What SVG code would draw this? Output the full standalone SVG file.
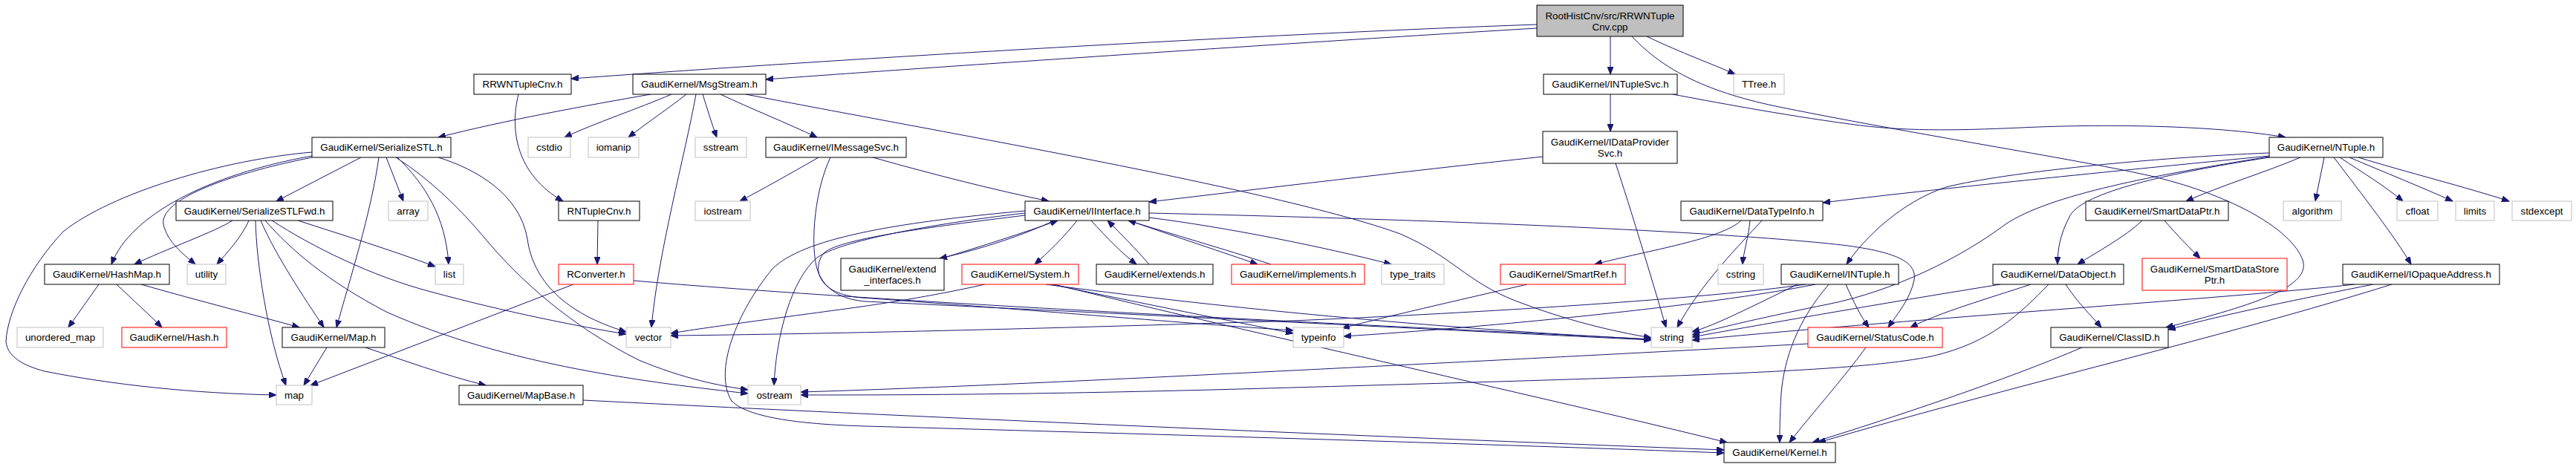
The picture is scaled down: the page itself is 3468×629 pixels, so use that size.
<svg xmlns="http://www.w3.org/2000/svg" width="3468" height="629" viewBox="0 0 3468 629">
<style>
.e path{fill:none;stroke:#191970;stroke-width:1;marker-end:url(#a)}
.nd rect{fill:#fff;stroke:#000;stroke-width:1}
.nd.g rect{stroke:#bfbfbf}
.nd.r rect{stroke:#ff0000}
.nd.root rect{fill:#bfbfbf;stroke:#000}
.nd text{font-family:"Liberation Sans",Arial,sans-serif;font-size:13.33px;text-anchor:middle;fill:#000}
</style>
<defs>
<marker id="a" markerWidth="11" markerHeight="8" refX="10" refY="4" orient="auto" markerUnits="userSpaceOnUse"><path d="M0,0 L10,4 L0,8 z" fill="#191970" stroke="#191970" stroke-width="1"/></marker>
</defs>
<rect width="3468" height="629" fill="#fff"/>
<g id="edges" class="e">
<path d="M2069,33 C1700,46 1150,78 769,106"/>
<path d="M2069,38 C1700,60 1150,98 1031,107"/>
<path d="M2168,49 L2168,100"/>
<path d="M2217,49 C2265,72 2305,86 2336,100"/>
<path d="M2197,49 C2240,95 2300,125 2400,145 C2600,185 2800,215 2900,238 C3010,265 3085,310 3100,350 C3112,385 3040,410 2916,441"/>
<path d="M2252,127 C2300,136 2400,155 2490,167 C2560,177 2630,176 2720,172 C2850,166 2990,170 3077,185"/>
<path d="M2168,127 L2168,177"/>
<path d="M876,127 C790,142 680,162 590,185"/>
<path d="M904,127 C860,146 800,166 760,185"/>
<path d="M924,127 C900,146 870,166 846,185"/>
<path d="M937,127 C922,210 886,340 877,441"/>
<path d="M946,127 C952,146 958,166 965,185"/>
<path d="M970,127 C1010,146 1060,166 1100,185"/>
<path d="M1004,127 C1250,175 1720,255 1885,315 C1955,345 1975,380 2040,405 C2110,432 2170,446 2223,455"/>
<path d="M698,127 C686,175 695,235 758,271"/>
<path d="M805,297 L804,356"/>
<path d="M772,383 L418,519"/>
<path d="M853,378 C1250,412 1900,440 2223,457"/>
<path d="M1102,212 C1060,236 1030,253 996,271"/>
<path d="M1175,212 C1260,236 1340,256 1412,271"/>
<path d="M1118,212 C1094,262 1090,345 1103,370 C1115,395 1140,404 1165,406 C1500,422 1900,442 2223,458"/>
<path d="M2077,211 C1880,232 1700,254 1547,272"/>
<path d="M2175,220 C2195,280 2225,380 2243,441"/>
<path d="M420,205 C300,215 150,260 85,312 C40,360 10,420 8,460 C10,480 30,492 60,500 C150,518 260,530 372,532"/>
<path d="M420,210 C280,235 175,290 150,356"/>
<path d="M420,212 C300,236 215,270 220,302 C225,325 245,341 263,356"/>
<path d="M486,212 L372,271"/>
<path d="M510,212 C500,285 470,380 453,441"/>
<path d="M520,212 L543,271"/>
<path d="M535,212 C572,248 600,292 604,356"/>
<path d="M590,212 C642,228 700,262 710,322 C718,378 760,422 843,447"/>
<path d="M533,212 C580,242 620,282 652,320 C700,378 770,440 860,485 C920,510 970,520 1007,525"/>
<path d="M313,297 C290,312 222,336 181,356"/>
<path d="M335,297 C325,320 305,341 292,356"/>
<path d="M344,297 C345,352 360,452 385,519"/>
<path d="M351,297 C370,342 410,402 436,441"/>
<path d="M357,297 C392,337 440,378 520,420 C680,492 880,516 1007,530"/>
<path d="M366,297 C420,332 500,372 580,393 C680,420 780,440 843,450"/>
<path d="M401,297 C460,316 530,338 586,359"/>
<path d="M133,383 L92,441"/>
<path d="M157,383 C180,405 200,423 218,441"/>
<path d="M190,383 C270,406 350,426 403,441"/>
<path d="M440,468 L409,519"/>
<path d="M492,468 C540,484 600,506 654,519"/>
<path d="M785,539 C1300,565 1900,590 2321,606"/>
<path d="M1419,297 C1380,316 1320,336 1265,348"/>
<path d="M1268,348 C1320,332 1380,313 1424,297"/>
<path d="M1450,297 C1432,320 1410,341 1393,356"/>
<path d="M1469,297 C1490,320 1510,341 1530,356"/>
<path d="M1547,356 C1530,336 1510,316 1491,297"/>
<path d="M1520,297 C1580,318 1650,341 1693,356"/>
<path d="M1711,356 C1650,336 1570,313 1519,297"/>
<path d="M1547,293 C1650,306 1780,332 1873,356"/>
<path d="M1547,287 C1900,295 2300,310 2480,330 C2560,340 2580,355 2577,377 C2572,402 2555,422 2542,441"/>
<path d="M1380,287 C1250,302 1130,325 1100,347 C1065,377 1045,452 1042,519"/>
<path d="M1380,284 C1200,300 1080,322 1040,362 C992,420 960,500 985,540 C1010,566 1100,572 1165,574 C1600,586 2000,598 2321,610"/>
<path d="M1380,290 C1250,306 1125,322 1108,342 C1094,362 1100,396 1160,401 C1400,418 1600,436 1741,445"/>
<path d="M1326,383 C1250,400 1180,410 1160,413 C1050,428 950,441 903,449"/>
<path d="M1415,383 C1550,411 1650,431 1741,449"/>
<path d="M1408,383 C1700,422 2000,446 2223,457"/>
<path d="M1419,383 C1700,452 2100,540 2325,596"/>
<path d="M2056,383 C1960,405 1860,428 1807,442"/>
<path d="M2344,297 C2318,322 2220,337 2147,356"/>
<path d="M2356,297 C2354,320 2347,340 2346,356"/>
<path d="M2372,297 C2340,332 2290,382 2258,441"/>
<path d="M3097,212 C3050,232 2990,250 2943,271"/>
<path d="M3129,212 L3117,271"/>
<path d="M3142,212 C3180,262 3225,320 3246,356"/>
<path d="M3150,212 C3180,232 3210,250 3235,271"/>
<path d="M3163,212 C3210,232 3260,252 3302,271"/>
<path d="M3175,212 C3240,232 3320,252 3378,271"/>
<path d="M3055,206 C2900,212 2700,232 2620,252 C2560,272 2510,320 2486,356"/>
<path d="M3055,210 C2850,230 2600,255 2454,273"/>
<path d="M3055,211 C2900,236 2760,262 2700,302 C2640,347 2550,392 2460,410 C2380,426 2320,440 2278,451"/>
<path d="M3055,212 C2900,236 2800,262 2786,292 C2773,317 2770,337 2770,356"/>
<path d="M2884,297 C2860,320 2820,341 2797,356"/>
<path d="M2914,297 C2930,316 2950,336 2962,348"/>
<path d="M2693,383 C2550,406 2400,432 2278,454"/>
<path d="M2734,383 C2680,401 2610,421 2572,441"/>
<path d="M2758,383 C2720,422 2680,462 2600,480 C2500,500 2300,506 1740,522 C1400,532 1200,532 1078,532"/>
<path d="M2781,383 C2795,405 2815,425 2829,441"/>
<path d="M2512,468 C2480,512 2440,556 2409,596"/>
<path d="M2434,463 C2200,476 1800,496 1740,499 C1500,511 1250,523 1078,528"/>
<path d="M2462,383 C2420,432 2402,482 2398,530 C2396,562 2396,582 2396,596"/>
<path d="M2485,383 C2495,406 2505,426 2516,441"/>
<path d="M2431,383 C2300,402 2000,421 1740,432 C1400,443 1100,450 903,452"/>
<path d="M2444,383 C2300,412 2000,441 1809,453"/>
<path d="M2420,383 C2360,412 2310,438 2278,447"/>
<path d="M3170,383 C3000,402 2600,427 2278,458"/>
<path d="M3195,383 C3100,402 3000,422 2919,444"/>
<path d="M3220,383 C3000,452 2700,522 2448,596"/>
<path d="M2803,468 C2700,512 2550,562 2440,596"/>
</g>
<g id="n-root" class="nd root"><rect x="2069" y="7" width="197" height="42"/><text x="2167.5" y="25.5">RootHistCnv/src/RRWNTuple</text><text x="2167.5" y="40.5">Cnv.cpp</text></g>
<g id="n-rrwntuplecnv" class="nd"><rect x="638" y="100" width="131" height="27"/><text x="703.5" y="118">RRWNTupleCnv.h</text></g>
<g id="n-msgstream" class="nd"><rect x="852" y="100" width="179" height="27"/><text x="941.5" y="118">GaudiKernel/MsgStream.h</text></g>
<g id="n-intuplesvc" class="nd"><rect x="2078" y="100" width="180" height="27"/><text x="2168" y="118">GaudiKernel/INTupleSvc.h</text></g>
<g id="n-ttree" class="nd g"><rect x="2334" y="100" width="68" height="27"/><text x="2368" y="118">TTree.h</text></g>
<g id="n-serializestl" class="nd"><rect x="420" y="185" width="187" height="27"/><text x="513.5" y="203">GaudiKernel/SerializeSTL.h</text></g>
<g id="n-cstdio" class="nd g"><rect x="711" y="185" width="57" height="27"/><text x="739.5" y="203">cstdio</text></g>
<g id="n-iomanip" class="nd g"><rect x="792" y="185" width="68" height="27"/><text x="826" y="203">iomanip</text></g>
<g id="n-sstream" class="nd g"><rect x="936" y="185" width="69" height="27"/><text x="970.5" y="203">sstream</text></g>
<g id="n-imessagesvc" class="nd"><rect x="1031" y="185" width="189" height="27"/><text x="1125.5" y="203">GaudiKernel/IMessageSvc.h</text></g>
<g id="n-idataprovidersvc" class="nd"><rect x="2077" y="177" width="181" height="43"/><text x="2167.5" y="196">GaudiKernel/IDataProvider</text><text x="2167.5" y="211">Svc.h</text></g>
<g id="n-ntuple" class="nd"><rect x="3055" y="185" width="153" height="27"/><text x="3131.5" y="203">GaudiKernel/NTuple.h</text></g>
<g id="n-serializestlfwd" class="nd"><rect x="237" y="271" width="211" height="26"/><text x="342.5" y="288.5">GaudiKernel/SerializeSTLFwd.h</text></g>
<g id="n-array" class="nd g"><rect x="523" y="271" width="53" height="26"/><text x="549.5" y="288.5">array</text></g>
<g id="n-rntuplecnv" class="nd"><rect x="752" y="271" width="109" height="26"/><text x="806.5" y="288.5">RNTupleCnv.h</text></g>
<g id="n-iostream" class="nd g"><rect x="936" y="271" width="74" height="26"/><text x="973" y="288.5">iostream</text></g>
<g id="n-iinterface" class="nd"><rect x="1380" y="271" width="167" height="26"/><text x="1463.5" y="288.5">GaudiKernel/IInterface.h</text></g>
<g id="n-datatypeinfo" class="nd"><rect x="2263" y="271" width="191" height="26"/><text x="2358.5" y="288.5">GaudiKernel/DataTypeInfo.h</text></g>
<g id="n-smartdataptr" class="nd"><rect x="2808" y="271" width="192" height="26"/><text x="2904" y="288.5">GaudiKernel/SmartDataPtr.h</text></g>
<g id="n-algorithm" class="nd g"><rect x="3074" y="271" width="78" height="26"/><text x="3113" y="288.5">algorithm</text></g>
<g id="n-cfloat" class="nd g"><rect x="3227" y="271" width="55" height="26"/><text x="3254.5" y="288.5">cfloat</text></g>
<g id="n-limits" class="nd g"><rect x="3306" y="271" width="52" height="26"/><text x="3332" y="288.5">limits</text></g>
<g id="n-stdexcept" class="nd g"><rect x="3382" y="271" width="80" height="26"/><text x="3422" y="288.5">stdexcept</text></g>
<g id="n-hashmap" class="nd"><rect x="60" y="356" width="168" height="27"/><text x="144" y="374">GaudiKernel/HashMap.h</text></g>
<g id="n-utility" class="nd g"><rect x="252" y="356" width="52" height="27"/><text x="278" y="374">utility</text></g>
<g id="n-list" class="nd g"><rect x="586" y="356" width="38" height="27"/><text x="605" y="374">list</text></g>
<g id="n-rconverter" class="nd r"><rect x="752" y="356" width="101" height="27"/><text x="802.5" y="374">RConverter.h</text></g>
<g id="n-extend_interfaces" class="nd"><rect x="1132" y="348" width="139" height="43"/><text x="1201.5" y="366.5">GaudiKernel/extend</text><text x="1201.5" y="381.5">_interfaces.h</text></g>
<g id="n-system" class="nd r"><rect x="1295" y="356" width="157" height="27"/><text x="1373.5" y="374">GaudiKernel/System.h</text></g>
<g id="n-extends" class="nd"><rect x="1476" y="356" width="157" height="27"/><text x="1554.5" y="374">GaudiKernel/extends.h</text></g>
<g id="n-implements" class="nd r"><rect x="1658" y="356" width="179" height="27"/><text x="1747.5" y="374">GaudiKernel/implements.h</text></g>
<g id="n-type_traits" class="nd g"><rect x="1860" y="356" width="84" height="27"/><text x="1902" y="374">type_traits</text></g>
<g id="n-smartref" class="nd r"><rect x="2020" y="356" width="168" height="27"/><text x="2104" y="374">GaudiKernel/SmartRef.h</text></g>
<g id="n-cstring" class="nd g"><rect x="2313" y="356" width="61" height="27"/><text x="2343.5" y="374">cstring</text></g>
<g id="n-intuple" class="nd"><rect x="2398" y="356" width="158" height="27"/><text x="2477" y="374">GaudiKernel/INTuple.h</text></g>
<g id="n-dataobject" class="nd"><rect x="2683" y="356" width="176" height="27"/><text x="2771" y="374">GaudiKernel/DataObject.h</text></g>
<g id="n-smartdatastoreptr" class="nd r"><rect x="2884" y="348" width="195" height="43"/><text x="2981.5" y="366.5">GaudiKernel/SmartDataStore</text><text x="2981.5" y="381.5">Ptr.h</text></g>
<g id="n-iopaqueaddress" class="nd"><rect x="3154" y="356" width="211" height="27"/><text x="3259.5" y="374">GaudiKernel/IOpaqueAddress.h</text></g>
<g id="n-unordered_map" class="nd g"><rect x="23" y="441" width="116" height="27"/><text x="81" y="459">unordered_map</text></g>
<g id="n-hash" class="nd r"><rect x="164" y="441" width="141" height="27"/><text x="234.5" y="459">GaudiKernel/Hash.h</text></g>
<g id="n-mapgk" class="nd"><rect x="380" y="441" width="138" height="27"/><text x="449" y="459">GaudiKernel/Map.h</text></g>
<g id="n-vector" class="nd g"><rect x="843" y="441" width="60" height="27"/><text x="873" y="459">vector</text></g>
<g id="n-typeinfo" class="nd g"><rect x="1741" y="441" width="68" height="27"/><text x="1775" y="459">typeinfo</text></g>
<g id="n-string" class="nd g"><rect x="2223" y="441" width="55" height="27"/><text x="2250.5" y="459">string</text></g>
<g id="n-statuscode" class="nd r"><rect x="2434" y="441" width="181" height="27"/><text x="2524.5" y="459">GaudiKernel/StatusCode.h</text></g>
<g id="n-classid" class="nd"><rect x="2761" y="441" width="158" height="27"/><text x="2840" y="459">GaudiKernel/ClassID.h</text></g>
<g id="n-map" class="nd g"><rect x="372" y="519" width="48" height="26"/><text x="396" y="536.5">map</text></g>
<g id="n-mapbase" class="nd"><rect x="618" y="519" width="167" height="26"/><text x="701.5" y="536.5">GaudiKernel/MapBase.h</text></g>
<g id="n-ostream" class="nd g"><rect x="1007" y="519" width="71" height="26"/><text x="1042.5" y="536.5">ostream</text></g>
<g id="n-kernel" class="nd"><rect x="2321" y="596" width="150" height="27"/><text x="2396" y="614">GaudiKernel/Kernel.h</text></g>
</svg>
